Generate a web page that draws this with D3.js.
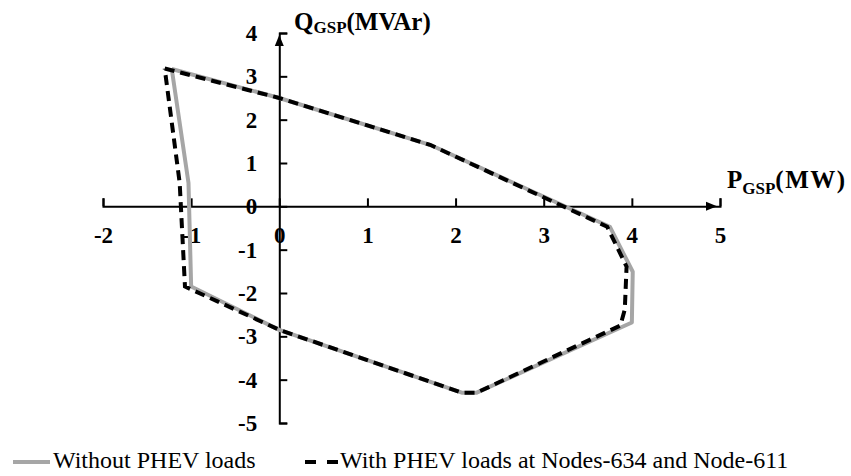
<!DOCTYPE html>
<html>
<head>
<meta charset="utf-8">
<script src="https://cdn.jsdelivr.net/npm/d3@7"></script>
<style>
  html, body { margin: 0; padding: 0; background: #fff; }
  svg { display: block; }
</style>
</head>
<body>
<svg id="chart" width="851" height="476"></svg>
<script>
// Operating region of the grid supply point (P in MW, Q in MVAr), closed outlines
const pWithout = [-1.22, 0.00, 1.71, 3.75, 4.01, 4.00, 2.24, 2.07, 0.00, -1.00, -1.03, -1.22];
const qWithout = [3.17, 2.50, 1.42, -0.47, -1.51, -2.68, -4.30, -4.30, -2.85, -1.85, 0.54, 3.17];

const pWith = [-1.30, 0.00, 1.71, 3.72, 3.94, 3.92, 3.87, 2.24, 2.07, 0.00, -1.07, -1.13, -1.30];
const qWith = [3.18, 2.50, 1.42, -0.47, -1.39, -2.38, -2.75, -4.30, -4.30, -2.85, -1.85, 0.54, 3.18];

const pTicks = [-2, -1, 0, 1, 2, 3, 4, 5];
const qTicks = [4, 3, 2, 1, 0, -1, -2, -3, -4, -5];

const seriesNames = ["Without PHEV loads", "With PHEV loads at Nodes-634 and Node-611"];

const svg = d3.select("#chart");
const serif = "'Liberation Serif', 'Times New Roman', serif";

const x = d3.scaleLinear().domain([-2, 5]).range([103, 720]);
const y = d3.scaleLinear().domain([-5, 4]).range([423, 33]);

// Axes crossing at the origin
const xAxis = d3.axisBottom(x).tickValues(pTicks).tickFormat(d3.format("d"))
  .tickSizeInner(-8).tickSizeOuter(-8).tickPadding(20);
const yAxis = d3.axisLeft(y).tickValues(qTicks).tickFormat(d3.format("d"))
  .tickSizeInner(-8).tickSizeOuter(-8).tickPadding(22);

function styleAxis(g) {
  g.attr("font-family", serif).attr("font-size", 23).attr("font-weight", "bold");
  g.selectAll("path, line").attr("stroke", "#000").attr("stroke-width", 2);
  g.selectAll("text").attr("fill", "#000").text(d => d < 0 ? "-" + Math.abs(d) : d);
}

svg.append("g").attr("transform", `translate(0,${y(0)})`).call(xAxis).call(styleAxis);
svg.append("g").attr("transform", `translate(${x(0)},0)`).call(yAxis).call(styleAxis);

// Arrow heads at the positive ends of both axes
svg.append("path")
  .attr("d", `M${x(5) - 3},${y(0)} L${x(5) - 14},${y(0) - 4.5} L${x(5) - 14},${y(0) + 4.5} Z`)
  .attr("fill", "#000");
svg.append("path")
  .attr("d", `M${x(0)},${y(4) + 2} L${x(0) - 4.5},${y(4) + 13} L${x(0) + 4.5},${y(4) + 13} Z`)
  .attr("fill", "#000");

// Axis titles
const qTitle = svg.append("text").attr("x", 294).attr("y", 30)
  .attr("font-family", serif).attr("font-weight", "bold").attr("font-size", 25).attr("fill", "#000");
qTitle.append("tspan").text("Q");
qTitle.append("tspan").attr("font-size", 17).attr("dy", 3).text("GSP");
qTitle.append("tspan").attr("dy", -3).text("(MVAr)");

const pTitle = svg.append("text").attr("x", 727).attr("y", 188)
  .attr("font-family", serif).attr("font-weight", "bold").attr("font-size", 25).attr("fill", "#000");
pTitle.append("tspan").text("P");
pTitle.append("tspan").attr("font-size", 17).attr("dy", 6).text("GSP");
pTitle.append("tspan").attr("dy", -6).attr("letter-spacing", 1.5).text("(MW)");

// Outlines
const line = d3.line().x(d => x(d[0])).y(d => y(d[1]));
const ptsWithout = pWithout.map((p, i) => [p, qWithout[i]]);
const ptsWith = pWith.map((p, i) => [p, qWith[i]]);

svg.append("path").datum(ptsWithout).attr("d", line)
  .attr("fill", "none").attr("stroke", "#a6a6a6").attr("stroke-width", 4)
  .attr("stroke-linejoin", "round");
svg.append("path").datum(ptsWith).attr("d", line)
  .attr("fill", "none").attr("stroke", "#000").attr("stroke-width", 4)
  .attr("stroke-dasharray", "10,6").attr("stroke-linejoin", "miter");

// Legend
const legY = 462;
svg.append("line").attr("x1", 13).attr("x2", 50).attr("y1", legY).attr("y2", legY)
  .attr("stroke", "#a6a6a6").attr("stroke-width", 4);
svg.append("text").attr("x", 53).attr("y", legY + 6)
  .attr("font-family", serif).attr("font-size", 24).attr("fill", "#000").text(seriesNames[0]);
svg.append("line").attr("x1", 305).attr("x2", 338).attr("y1", legY).attr("y2", legY)
  .attr("stroke", "#000").attr("stroke-width", 4).attr("stroke-dasharray", "11,11");
svg.append("text").attr("x", 340).attr("y", legY + 6)
  .attr("font-family", serif).attr("font-size", 24).attr("fill", "#000").text(seriesNames[1]);
</script>
</body>
</html>
